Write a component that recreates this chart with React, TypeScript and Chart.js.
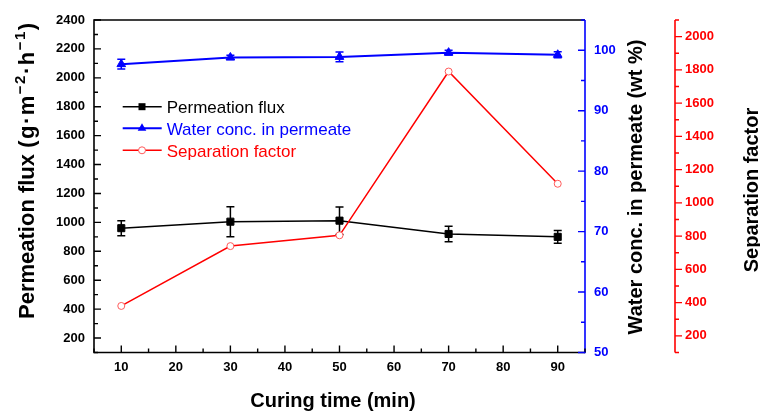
import { useEffect, useRef } from 'react';
import { Chart, registerables } from 'chart.js';

Chart.register(...registerables);

// ---- data ----
const curingTime = [10, 30, 50, 70, 90];
const permeationFlux = [960, 1005, 1012, 920, 900];
const fluxError = [52, 104, 95, 54, 44];
const waterConc = [97.7, 98.8, 98.9, 99.6, 99.25];
const waterError = [0.8, 0.35, 0.8, 0.4, 0.5];
const separationFactor = [380, 740, 805, 1790, 1115];

// ---- tick labels ----
const xTicks = [10, 20, 30, 40, 50, 60, 70, 80, 90];
const fluxTicks = [200, 400, 600, 800, 1000, 1200, 1400, 1600, 1800, 2000, 2200, 2400];
const waterTicks = [50, 60, 70, 80, 90, 100];
const sepTicks = [200, 400, 600, 800, 1000, 1200, 1400, 1600, 1800, 2000];

const FONT = "Arial, 'Liberation Sans', Helvetica, sans-serif";
const BLUE = '#0000ff';
const RED = '#ff0000';

function minorsOf(major: number[], min: number, max: number) {
  const step = major[1] - major[0];
  const out: number[] = [];
  for (let v = major[0] - step / 2; v <= max + 1e-9; v += step) {
    if (v >= min - 1e-9) out.push(v);
  }
  return out;
}

const decor = {
  id: 'decor',
  beforeDatasetsDraw(chart: any) {
    const { ctx } = chart;
    const sx = chart.scales.x;
    const bars = [
      { vals: permeationFlux, err: fluxError, scale: chart.scales.y, color: '#000' },
      { vals: waterConc, err: waterError, scale: chart.scales.y1, color: BLUE },
    ];
    ctx.save();
    for (const b of bars) {
      ctx.strokeStyle = b.color;
      ctx.lineWidth = 1.5;
      b.vals.forEach((v, i) => {
        const px = sx.getPixelForValue(curingTime[i]);
        const top = b.scale.getPixelForValue(v + b.err[i]);
        const bot = b.scale.getPixelForValue(v - b.err[i]);
        ctx.beginPath();
        ctx.moveTo(px, top);
        ctx.lineTo(px, bot);
        ctx.moveTo(px - 4, top);
        ctx.lineTo(px + 4, top);
        ctx.moveTo(px - 4, bot);
        ctx.lineTo(px + 4, bot);
        ctx.stroke();
      });
    }
    ctx.restore();
  },
  afterDraw(chart: any) {
    const { ctx, chartArea: a } = chart;
    const sx = chart.scales.x;
    const sy = chart.scales.y;
    const sy1 = chart.scales.y1;
    const sy2 = chart.scales.y2;
    const redX = sy2.left;
    ctx.save();
    ctx.lineWidth = 1.6;
    ctx.lineCap = 'butt';
    // frame
    ctx.strokeStyle = '#000';
    ctx.beginPath();
    ctx.moveTo(a.right, a.top);
    ctx.lineTo(a.left, a.top);
    ctx.lineTo(a.left, a.bottom);
    ctx.lineTo(a.right, a.bottom);
    ctx.stroke();
    ctx.strokeStyle = BLUE;
    ctx.beginPath();
    ctx.moveTo(a.right, a.top);
    ctx.lineTo(a.right, a.bottom + 0.8);
    ctx.stroke();
    ctx.strokeStyle = RED;
    ctx.beginPath();
    ctx.moveTo(redX, a.top);
    ctx.lineTo(redX, a.bottom);
    ctx.stroke();

    const MAJ = 7, MIN = 4;
    ctx.lineWidth = 1.4;
    // bottom ticks (inward)
    ctx.strokeStyle = '#000';
    ctx.beginPath();
    xTicks.forEach(v => { const p = sx.getPixelForValue(v); ctx.moveTo(p, a.bottom); ctx.lineTo(p, a.bottom - MAJ); });
    minorsOf(xTicks, 5, 95).forEach(v => { const p = sx.getPixelForValue(v); ctx.moveTo(p, a.bottom); ctx.lineTo(p, a.bottom - MIN); });
    // left ticks (inward)
    fluxTicks.forEach(v => { const p = sy.getPixelForValue(v); ctx.moveTo(a.left, p); ctx.lineTo(a.left + MAJ, p); });
    minorsOf(fluxTicks, 100, 2400).forEach(v => { const p = sy.getPixelForValue(v); ctx.moveTo(a.left, p); ctx.lineTo(a.left + MIN, p); });
    ctx.stroke();
    // blue ticks (inward)
    ctx.strokeStyle = BLUE;
    ctx.beginPath();
    waterTicks.forEach(v => { const p = sy1.getPixelForValue(v); ctx.moveTo(a.right, p); ctx.lineTo(a.right - MAJ, p); });
    minorsOf(waterTicks, 50, 105).forEach(v => { const p = sy1.getPixelForValue(v); ctx.moveTo(a.right, p); ctx.lineTo(a.right - MIN, p); });
    ctx.stroke();
    // red ticks (outward to the right)
    ctx.strokeStyle = RED;
    ctx.beginPath();
    sepTicks.forEach(v => { const p = sy2.getPixelForValue(v); ctx.moveTo(redX, p); ctx.lineTo(redX + MAJ, p); });
    minorsOf(sepTicks, 100, 2100).forEach(v => { const p = sy2.getPixelForValue(v); ctx.moveTo(redX, p); ctx.lineTo(redX + MIN, p); });
    ctx.stroke();

    // axis titles
    ctx.fillStyle = '#000';
    ctx.textBaseline = 'alphabetic';
    const big = `bold 20px ${FONT}`;
    // x title
    ctx.font = big;
    ctx.textAlign = 'center';
    ctx.fillText('Curing time (min)', 333, 407);
    // left title with superscripts
    const leftBig = `bold 22px ${FONT}`;
    const leftSmall = `bold 15px ${FONT}`;
    const parts = [
      { t: 'Permeation flux ', sup: false, sp: 0 },
      { t: '(g·m', sup: false, sp: 1.5 },
      { t: '−2', sup: true, sp: 1.5 },
      { t: '·h', sup: false, sp: 1.5 },
      { t: '−1', sup: true, sp: 1.5 },
      { t: ')', sup: false, sp: 0 },
    ];
    ctx.save();
    ctx.translate(34, 319);
    ctx.rotate(-Math.PI / 2);
    ctx.textAlign = 'left';
    let cx = 0;
    parts.forEach(p => {
      ctx.font = p.sup ? leftSmall : leftBig;
      (ctx as any).letterSpacing = `${p.sp}px`;
      ctx.fillText(p.t, cx, p.sup ? -9 : 0);
      cx += ctx.measureText(p.t).width;
    });
    (ctx as any).letterSpacing = '0px';
    ctx.restore();
    // blue axis title
    ctx.save();
    ctx.font = big;
    ctx.textAlign = 'center';
    ctx.translate(642, 187);
    ctx.rotate(-Math.PI / 2);
    ctx.fillText('Water conc. in permeate (wt %)', 0, 0);
    ctx.restore();
    // red axis title
    ctx.save();
    ctx.font = big;
    ctx.textAlign = 'center';
    ctx.translate(758, 190);
    ctx.rotate(-Math.PI / 2);
    ctx.fillText('Separation factor', 0, 0);
    ctx.restore();

    // legend
    const rows = [
      { label: 'Permeation flux', color: '#000', y: 106.7, m: 'rect' },
      { label: 'Water conc. in permeate', color: BLUE, y: 128.3, m: 'tri' },
      { label: 'Separation factor', color: RED, y: 150.3, m: 'circ' },
    ];
    rows.forEach(r => {
      ctx.strokeStyle = r.color;
      ctx.lineWidth = r.m === 'tri' ? 2 : 1.5;
      ctx.beginPath();
      ctx.moveTo(122.7, r.y);
      ctx.lineTo(161.7, r.y);
      ctx.stroke();
      const mx = 142;
      if (r.m === 'rect') {
        ctx.fillStyle = '#000';
        ctx.fillRect(mx - 3.5, r.y - 3.5, 7, 7);
      } else if (r.m === 'tri') {
        ctx.fillStyle = BLUE;
        ctx.beginPath();
        ctx.moveTo(mx, r.y - 5);
        ctx.lineTo(mx + 4.33, r.y + 2.5);
        ctx.lineTo(mx - 4.33, r.y + 2.5);
        ctx.closePath();
        ctx.fill();
      } else {
        ctx.fillStyle = '#fff';
        ctx.strokeStyle = '#ff5a5a';
        ctx.lineWidth = 1;
        ctx.beginPath();
        ctx.arc(mx, r.y, 3.5, 0, Math.PI * 2);
        ctx.fill();
        ctx.stroke();
      }
      ctx.fillStyle = r.color;
      ctx.font = `17px ${FONT}`;
      ctx.textAlign = 'left';
      ctx.textBaseline = 'alphabetic';
      ctx.fillText(r.label, 166.7, r.y + 6.3);
    });
    ctx.restore();
  },
};

const setTicks = (vals: number[]) => (scale: any) => {
  scale.ticks = vals.map(v => ({ value: v }));
};

const tickFont = { family: FONT, size: 13, weight: 'bold' as const };

export default function App() {
  const ref = useRef<HTMLCanvasElement>(null);
  useEffect(() => {
    const canvas = ref.current;
    if (!canvas) return;
    const chart = new Chart(canvas, {
      type: 'line',
      data: {
        datasets: [
          {
            label: 'Permeation flux',
            data: curingTime.map((x, i) => ({ x, y: permeationFlux[i] })),
            yAxisID: 'y',
            borderColor: '#000',
            backgroundColor: '#000',
            borderWidth: 1.5,
            pointStyle: 'rect',
            pointRadius: 5,
            pointBackgroundColor: '#000',
            pointBorderColor: '#000',
            pointBorderWidth: 1,
            order: 2,
          },
          {
            label: 'Water conc. in permeate',
            data: curingTime.map((x, i) => ({ x, y: waterConc[i] })),
            yAxisID: 'y1',
            borderColor: BLUE,
            backgroundColor: BLUE,
            borderWidth: 2,
            pointStyle: 'triangle',
            pointRadius: 5,
            pointBackgroundColor: BLUE,
            pointBorderColor: BLUE,
            pointBorderWidth: 1,
            order: 1,
          },
          {
            label: 'Separation factor',
            data: curingTime.map((x, i) => ({ x, y: separationFactor[i] })),
            yAxisID: 'y2',
            borderColor: RED,
            backgroundColor: '#fff',
            borderWidth: 1.5,
            pointStyle: 'circle',
            pointRadius: 3.5,
            pointBackgroundColor: '#fff',
            pointBorderColor: '#ff5a5a',
            pointBorderWidth: 1,
            order: 0,
          },
        ],
      },
      options: {
        responsive: false,
        animation: false,
        layout: { padding: { top: 20, left: 0, right: 0, bottom: 0 } },
        plugins: { legend: { display: false }, tooltip: { enabled: false } },
        scales: {
          x: {
            type: 'linear',
            position: 'bottom',
            min: 5,
            max: 95,
            afterBuildTicks: setTicks(xTicks),
            afterFit: (s: any) => { s.height = 59.5; },
            grid: { display: false, drawTicks: false },
            border: { display: false },
            ticks: { padding: 7, color: '#000', font: tickFont, autoSkip: false, maxRotation: 0, callback: (v: any) => String(v) },
          },
          y: {
            type: 'linear',
            position: 'left',
            min: 100,
            max: 2400,
            afterBuildTicks: setTicks(fluxTicks),
            afterFit: (s: any) => { s.width = 94; },
            grid: { display: false, drawTicks: false },
            border: { display: false },
            ticks: { padding: 9, color: '#000', font: tickFont, autoSkip: false, callback: (v: any) => String(v) },
          },
          y1: {
            type: 'linear',
            position: 'right',
            weight: 0,
            min: 50,
            max: 105,
            afterBuildTicks: setTicks(waterTicks),
            afterFit: (s: any) => { s.width = 90; },
            grid: { display: false, drawTicks: false },
            border: { display: false },
            ticks: { padding: 9, color: BLUE, font: tickFont, autoSkip: false, callback: (v: any) => String(v) },
          },
          y2: {
            type: 'linear',
            position: 'right',
            weight: 1,
            min: 100,
            max: 2100,
            afterBuildTicks: setTicks(sepTicks),
            afterFit: (s: any) => { s.width = 85; },
            grid: { display: false, drawTicks: false },
            border: { display: false },
            ticks: { padding: 10, color: RED, font: tickFont, autoSkip: false, callback: (v: any) => String(v) },
          },
        },
      } as any,
      plugins: [decor],
    });
    return () => chart.destroy();
  }, []);
  return (
    <div style={{ position: 'absolute', left: 0, top: 0, width: 760, height: 412, background: '#fff' }}>
      <canvas ref={ref} width={760} height={412} style={{ display: 'block' }} />
    </div>
  );
}
